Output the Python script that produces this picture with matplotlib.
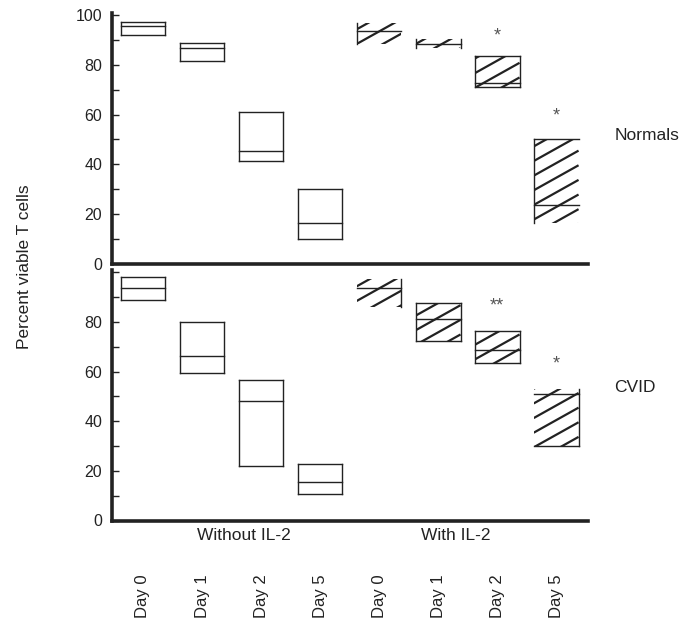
import numpy as np
import matplotlib.pyplot as plt
from matplotlib.patches import Rectangle

plt.rcParams['font.family'] = ['Liberation Sans', 'DejaVu Sans']

days = ['Day 0', 'Day 1', 'Day 2', 'Day 5']
groups = ['Without IL-2', 'With IL-2']
panels = ['Normals', 'CVID']

# columns: 4 days without IL-2, then 4 days with IL-2
norm_low = [92.1, 81.5, 41.2, 9.9, 88.5, 86.8, 71.0, 16.2]
norm_med = [95.8, 86.8, 45.2, 16.2, 93.6, 88.5, 72.8, 23.5]
norm_high = [97.5, 88.8, 61.0, 29.9, 97.1, 90.4, 83.8, 50.1]
norm_stars = ['', '', '', '', '', '', '*', '*']
norm_star_y = [0, 0, 0, 0, 0, 0, 93.5, 61.0]

cvid_low = [88.8, 59.4, 21.9, 10.6, 86.2, 72.5, 63.4, 30.0]
cvid_med = [93.6, 66.2, 48.1, 15.4, 93.6, 81.1, 68.8, 50.9]
cvid_high = [98.1, 79.9, 56.5, 22.7, 97.3, 87.6, 76.3, 52.9]
cvid_stars = ['', '', '', '', '', '', '**', '*']
cvid_star_y = [0, 0, 0, 0, 0, 0, 88.2, 64.7]

# which box edges are drawn (as in the scanned original)
norm_edges = ['tblr'] * 4 + ['l', 'lr', 'tblr', 'tl']
cvid_edges = ['tblr'] * 4 + ['r', 'tblr', 'tblr', 'rb']
hatched = [False] * 4 + [True] * 4

ink = '#222222'
W, H = 693, 631
fig = plt.figure(figsize=(W / 100, H / 100), dpi=100)

ax_top = fig.add_axes([112 / W, 1 - 263.5 / H, 476 / W, 250.5 / H])
ax_bot = fig.add_axes([112 / W, 1 - 520.5 / H, 476 / W, 250.5 / H])

xpos = np.arange(8)
bw = 0.76
slope = 13.3      # hatch slope in data units
gap = 5.9         # vertical hatch spacing


def draw_panel(ax, low, med, high, edges, stars, star_y, top_label):
    for i in range(8):
        x0, x1 = xpos[i] - bw / 2, xpos[i] + bw / 2
        lo, hi = low[i], high[i]
        if hatched[i]:
            clip = Rectangle((x0, lo), bw, hi - lo, fill=False, lw=0,
                             transform=ax.transData)
            ax.add_patch(clip)
            b = np.arange(np.floor((lo - slope * bw) / gap) * gap, hi + gap, gap)
            for bb in b:
                ln, = ax.plot([x0, x1], [bb, bb + slope * bw], color=ink,
                              lw=1.6, solid_capstyle='butt')
                ln.set_clip_path(clip)
        e = edges[i]
        kw = dict(color=ink, lw=1.0)
        if 't' in e:
            ax.plot([x0, x1], [hi, hi], **kw)
        if 'b' in e:
            ax.plot([x0, x1], [lo, lo], **kw)
        if 'l' in e:
            ax.plot([x0, x0], [lo, hi], **kw)
        if 'r' in e:
            ax.plot([x1, x1], [lo, hi], **kw)
        ax.plot([x0, x1], [med[i], med[i]], **kw)
        if stars[i]:
            # asterisk glyph sits high in its box, so nudge it down
            ax.annotate(stars[i], (xpos[i], star_y[i]), xytext=(0, -3),
                        textcoords='offset points', ha='center', va='center',
                        fontsize=13, color='#555555')

    ax.set_xlim(-0.525, 7.54)
    ax.set_ylim(0, 101)
    for s in ['top', 'right']:
        ax.spines[s].set_visible(False)
    for s in ['left', 'bottom']:
        ax.spines[s].set_linewidth(2.6)
        ax.spines[s].set_color(ink)
    ax.set_xticks([])
    ax.set_yticks(range(0, 101, 10))
    ax.set_yticklabels([str(v) if v % 20 == 0 and v <= top_label else ''
                        for v in range(0, 101, 10)])
    ax.tick_params(axis='y', direction='in', length=5, width=1.0,
                   color=ink, pad=7, labelsize=11.5, labelcolor=ink)


draw_panel(ax_top, norm_low, norm_med, norm_high, norm_edges,
           norm_stars, norm_star_y, 100)
draw_panel(ax_bot, cvid_low, cvid_med, cvid_high, cvid_edges,
           cvid_stars, cvid_star_y, 80)

fig.text(615 / W, 1 - 135 / H, panels[0], ha='left', va='center',
         fontsize=12.5, color=ink)
fig.text(614 / W, 1 - 387 / H, panels[1], ha='left', va='center',
         fontsize=12.5, color=ink)
fig.text(25 / W, 1 - 267 / H, 'Percent viable T cells', rotation=90,
         ha='center', va='center', fontsize=12.5, color=ink)

fig.text(244 / W, 1 - 535 / H, groups[0], ha='center', va='center',
         fontsize=12.5, color=ink)
fig.text(456 / W, 1 - 535 / H, groups[1], ha='center', va='center',
         fontsize=12.5, color=ink)

trans = ax_bot.get_xaxis_transform()
label_y = (520.5 - 596.5) / 250.5
for i in range(8):
    ax_bot.text(xpos[i], label_y, days[i % 4], rotation=90, ha='center',
                va='center', fontsize=12, color=ink, transform=trans,
                clip_on=False)

fig.savefig('out.png', dpi=100)
